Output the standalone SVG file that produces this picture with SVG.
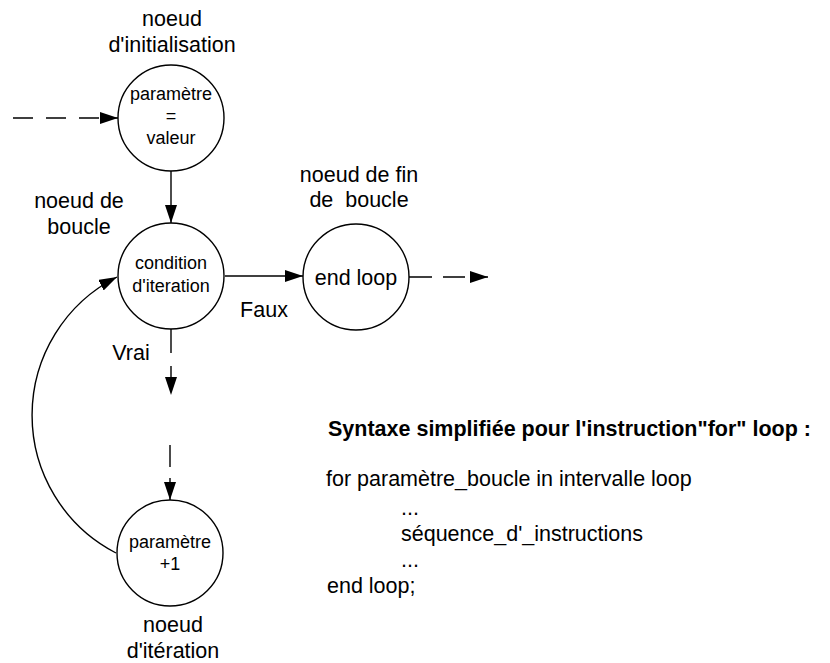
<svg xmlns="http://www.w3.org/2000/svg" width="830" height="663" viewBox="0 0 830 663">
<defs>
<style>
text{font-family:"Liberation Sans",Arial,sans-serif;fill:#000}
.lbl{font-size:21.5px;text-anchor:middle}
.in{font-size:18px;text-anchor:middle}
.code{font-size:21.5px}
.bold{font-weight:bold}
.node circle{fill:#fff;stroke:#000;stroke-width:1.4}
.c{fill:none;stroke:#000;stroke-width:1.4}
</style>
<marker id="ah" markerUnits="userSpaceOnUse" markerWidth="18" markerHeight="12" refX="18" refY="6" orient="auto">
<path d="M0,0 L18,6 L0,12 z" fill="#000"/>
</marker>
</defs>
<rect width="830" height="663" fill="#fff"/>
<g id="connectors">
<path class="c" d="M13,118 H118" stroke-dasharray="20,13" marker-end="url(#ah)"/>
<path class="c" d="M171,171 V223" marker-end="url(#ah)"/>
<path class="c" d="M225,276 H303" marker-end="url(#ah)"/>
<path class="c" d="M409,277 H488" stroke-dasharray="23,11,22,5" marker-end="url(#ah)"/>
<path class="c" d="M171,329 V395" stroke-dasharray="24,13" marker-end="url(#ah)"/>
<path class="c" d="M170,445 V500" stroke-dasharray="22,11" marker-end="url(#ah)"/>
<path class="c" d="M116,553 A155,155 0 0 1 117,277" marker-end="url(#ah)"/>
<text class="lbl" x="264" y="317">Faux</text>
<text class="lbl" x="131" y="360">Vrai</text>
</g>
<g id="node-init" class="node">
<text class="lbl" x="172" y="26">noeud</text>
<text class="lbl" x="172" y="52">d'initialisation</text>
<circle cx="171" cy="118" r="53"/>
<text class="in" x="171" y="100">paramètre</text>
<text class="in" x="171" y="122">=</text>
<text class="in" x="171" y="144">valeur</text>
</g>
<g id="node-boucle" class="node">
<text class="lbl" x="79" y="208">noeud de</text>
<text class="lbl" x="79" y="234">boucle</text>
<circle cx="171" cy="276" r="53"/>
<text class="in" x="171" y="269">condition</text>
<text class="in" x="171" y="292">d'iteration</text>
</g>
<g id="node-fin" class="node">
<text class="lbl" x="359" y="182">noeud de fin</text>
<text class="lbl" x="359" y="207" xml:space="preserve">de  boucle</text>
<circle cx="356" cy="277" r="53"/>
<text class="lbl" x="356" y="285">end loop</text>
</g>
<g id="node-iteration" class="node">
<circle cx="170" cy="553" r="53"/>
<text class="in" x="170" y="548">paramètre</text>
<text class="in" x="170" y="570">+1</text>
<text class="lbl" x="173" y="632">noeud</text>
<text class="lbl" x="173" y="658">d'itération</text>
</g>
<g id="syntax">
<text class="code bold" x="328" y="436">Syntaxe simplifiée pour l'instruction"for" loop :</text>
<text class="code" x="326" y="486">for paramètre_boucle in intervalle loop</text>
<text class="code" x="401" y="515">...</text>
<text class="code" x="401" y="541">séquence_d'_instructions</text>
<text class="code" x="401" y="567">...</text>
<text class="code" x="327" y="593">end loop;</text>
</g>
</svg>
